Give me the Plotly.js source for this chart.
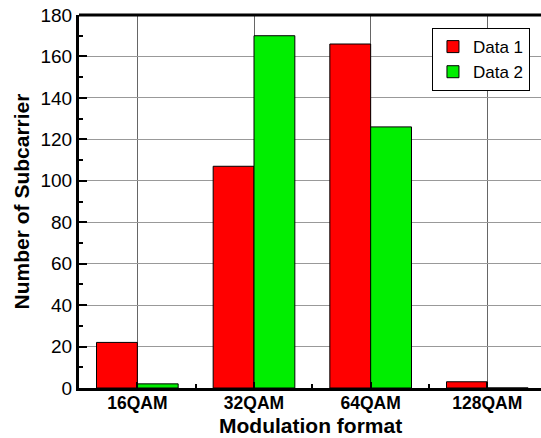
<!DOCTYPE html>
<html><head><meta charset="utf-8">
<script src="https://cdn.plot.ly/plotly-3.0.1.min.js"></script>
<style>html,body{margin:0;padding:0;overflow:hidden;background:#fff}</style>
</head><body>
<div id="chart" style="width:541px;height:438px"></div>
<script>
const categories = ["16QAM", "32QAM", "64QAM", "128QAM"];
const data1 = [22, 107, 166, 3];
const data2 = [2, 170, 126, 0];
const yTicks = [0, 20, 40, 60, 80, 100, 120, 140, 160, 180];

const xIdx = categories.map((c, i) => i);

const traces = [
  {type: 'bar', name: 'Data 1', x: xIdx, y: data1,
   marker: {color: '#ff0000', line: {color: '#000', width: 1}}},
  {type: 'bar', name: 'Data 2', x: xIdx, y: data2,
   marker: {color: '#00ee00', line: {color: '#000', width: 1}}}
];

const layout = {
  width: 541, height: 438,
  margin: {l: 79, r: 0, t: 15, b: 50},
  paper_bgcolor: '#fff', plot_bgcolor: '#fff',
  barmode: 'group', bargap: 0.3, bargroupgap: 0,
  font: {family: 'Arial, "Liberation Sans", sans-serif', color: '#000'},
  showlegend: true,
  legend: {x: 0.764, y: 0.965, xanchor: 'left', yanchor: 'top',
    bordercolor: '#000', borderwidth: 1, bgcolor: '#fff',
    font: {size: 17}, tracegroupgap: 0},
  xaxis: {
    range: [-0.5, 3.46], tickmode: 'array', tickvals: xIdx, ticktext: categories,
    showline: true, linecolor: '#000', linewidth: 3,
    ticks: 'inside', ticklen: 6, tickwidth: 2, tickcolor: '#000',
    tickfont: {size: 17.5, weight: 'bold'}, ticklabelstandoff: -3,
    showgrid: true, gridcolor: '#666', gridwidth: 1,
    zeroline: false,
    minor: {ticks: 'inside', ticklen: 4, tickwidth: 2, tick0: 0.5, dtick: 1, tickcolor: '#000', showgrid: false}
  },
  yaxis: {
    range: [0, 180], tickmode: 'array', tickvals: yTicks,
    showline: true, linecolor: '#000', linewidth: 3,
    ticks: 'inside', ticklen: 8, tickwidth: 2, tickcolor: '#000',
    tickfont: {size: 19},
    showgrid: true, gridcolor: '#999', gridwidth: 1,
    zeroline: false,
    minor: {ticks: 'inside', ticklen: 4, tickwidth: 2, dtick: 10, tickcolor: '#000', showgrid: false},
    title: {text: 'Number of Subcarrier', font: {size: 21, weight: 'bold'}, standoff: 6}
  },
  annotations: [
    {text: '<b>Modulation format</b>', xref: 'paper', yref: 'paper', x: 0.5, y: 0,
     xanchor: 'center', yanchor: 'middle', yshift: -37, showarrow: false,
     font: {size: 21}}
  ],
  shapes: [
    {type: 'line', xref: 'paper', yref: 'paper', x0: 0, x1: 1, y0: 1, y1: 1,
     line: {color: '#000', width: 3}}
  ]
};

Plotly.newPlot('chart', traces, layout, {displayModeBar: false, staticPlot: true});
</script>
</body></html>
